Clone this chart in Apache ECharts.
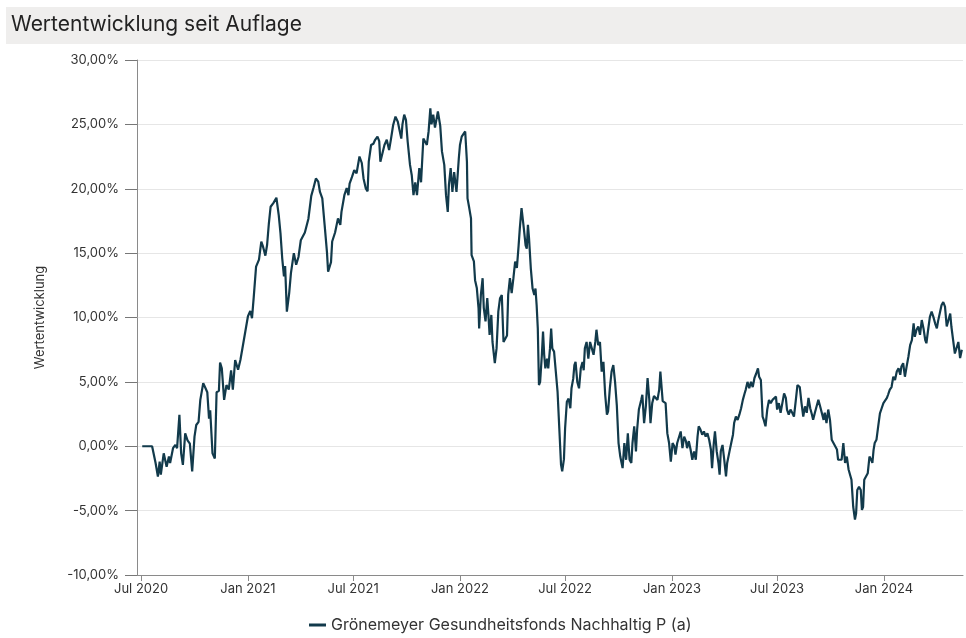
<!DOCTYPE html>
<html>
<head>
<meta charset="utf-8">
<script src="https://cdn.jsdelivr.net/npm/echarts@6/dist/echarts.min.js"></script>
<style>
html,body{margin:0;padding:0;background:#fff;}
#c{width:966px;height:638px;}
</style>
</head>
<body>
<div id="c"></div>
<script>
const titleText = 'Wertentwicklung seit Auflage';
const seriesName = 'Grönemeyer Gesundheitsfonds Nachhaltig P (a)';
const yAxisName = 'Wertentwicklung';
const monthNames = ['Jan','Feb','Mar','Apr','May','Jun','Jul','Aug','Sep','Oct','Nov','Dec'];
const axisMinDate = '2020-06-24';
const axisMaxDate = '2024-05-16';
const yMin = -10, yMax = 30, yStep = 5;

const dates = [
'2020-07-03','2020-07-06','2020-07-20','2020-07-26','2020-07-30','2020-08-02','2020-08-04','2020-08-09','2020-08-14','2020-08-18','2020-08-20','2020-08-25','2020-08-29',
'2020-09-01','2020-09-05','2020-09-08','2020-09-11','2020-09-15','2020-09-19','2020-09-23','2020-09-27',
'2020-10-01','2020-10-04','2020-10-08','2020-10-11','2020-10-16','2020-10-20','2020-10-23','2020-10-26','2020-10-28',
'2020-11-01','2020-11-05','2020-11-08','2020-11-12','2020-11-14','2020-11-17','2020-11-21','2020-11-25','2020-11-29',
'2020-12-03','2020-12-06','2020-12-10','2020-12-15','2020-12-19','2020-12-24','2020-12-28',
'2021-01-01','2021-01-05','2021-01-08','2021-01-11','2021-01-15','2021-01-20','2021-01-24','2021-01-27','2021-01-31',
'2021-02-03','2021-02-06','2021-02-09','2021-02-14','2021-02-19','2021-02-23','2021-02-26',
'2021-03-01','2021-03-04','2021-03-06','2021-03-09','2021-03-13','2021-03-16','2021-03-21','2021-03-25','2021-03-29',
'2021-04-02','2021-04-09','2021-04-15','2021-04-20','2021-04-24','2021-04-28',
'2021-05-02','2021-05-05','2021-05-09','2021-05-13','2021-05-17','2021-05-19','2021-05-24','2021-05-26','2021-05-31',
'2021-06-05','2021-06-09','2021-06-11','2021-06-16','2021-06-20','2021-06-23','2021-06-25','2021-06-29',
'2021-07-03','2021-07-07','2021-07-12','2021-07-16','2021-07-19','2021-07-23','2021-07-26','2021-07-28',
'2021-08-01','2021-08-05','2021-08-08','2021-08-12','2021-08-15','2021-08-17','2021-08-20','2021-08-24','2021-08-28',
'2021-09-01','2021-09-04','2021-09-08','2021-09-12','2021-09-16','2021-09-19','2021-09-22','2021-09-24','2021-09-27','2021-09-30',
'2021-10-03','2021-10-07','2021-10-10','2021-10-13','2021-10-16','2021-10-19','2021-10-23','2021-10-26','2021-10-30',
'2021-11-02','2021-11-05','2021-11-08','2021-11-11','2021-11-13','2021-11-16','2021-11-19','2021-11-24','2021-11-28',
'2021-12-01','2021-12-05','2021-12-08','2021-12-11','2021-12-13','2021-12-16','2021-12-19','2021-12-22','2021-12-26','2021-12-30',
'2022-01-01','2022-01-04','2022-01-07','2022-01-10','2022-01-13','2022-01-14','2022-01-17','2022-01-20','2022-01-21','2022-01-25','2022-01-27','2022-01-30',
'2022-02-02','2022-02-03','2022-02-06','2022-02-09','2022-02-11','2022-02-14','2022-02-17','2022-02-19','2022-02-21','2022-02-24','2022-02-26',
'2022-03-02','2022-03-05','2022-03-08','2022-03-11','2022-03-14','2022-03-17','2022-03-20','2022-03-23','2022-03-25','2022-03-28','2022-03-31',
'2022-04-03','2022-04-06','2022-04-09','2022-04-12','2022-04-14','2022-04-17','2022-04-19','2022-04-21','2022-04-24','2022-04-26','2022-04-28','2022-04-30',
'2022-05-03','2022-05-06','2022-05-09','2022-05-11','2022-05-13','2022-05-15','2022-05-17','2022-05-19','2022-05-22','2022-05-24','2022-05-26','2022-05-28','2022-05-31',
'2022-06-02','2022-06-05','2022-06-07','2022-06-09','2022-06-12','2022-06-15','2022-06-18','2022-06-21','2022-06-24','2022-06-26','2022-06-29',
'2022-07-01','2022-07-04','2022-07-07','2022-07-10','2022-07-12','2022-07-15','2022-07-17','2022-07-19','2022-07-22','2022-07-25','2022-07-28','2022-07-31',
'2022-08-02','2022-08-04','2022-08-07','2022-08-10','2022-08-13','2022-08-16','2022-08-19','2022-08-22','2022-08-24','2022-08-27','2022-08-30',
'2022-09-02','2022-09-05','2022-09-08','2022-09-11','2022-09-13','2022-09-16','2022-09-19','2022-09-22','2022-09-25','2022-09-28',
'2022-10-01','2022-10-04','2022-10-08','2022-10-11','2022-10-14','2022-10-17','2022-10-20','2022-10-23','2022-10-25','2022-10-28','2022-10-31',
'2022-11-02','2022-11-05','2022-11-09','2022-11-11','2022-11-14','2022-11-17','2022-11-20','2022-11-23','2022-11-25','2022-11-28',
'2022-12-01','2022-12-04','2022-12-07','2022-12-10','2022-12-12','2022-12-14','2022-12-16','2022-12-18','2022-12-21','2022-12-24','2022-12-27','2022-12-30',
'2023-01-02','2023-01-05','2023-01-07','2023-01-10','2023-01-13','2023-01-16','2023-01-19','2023-01-22','2023-01-25','2023-01-27','2023-01-30',
'2023-02-02','2023-02-05','2023-02-08','2023-02-11','2023-02-14','2023-02-16','2023-02-19','2023-02-22','2023-02-25','2023-02-28',
'2023-03-03','2023-03-06','2023-03-09','2023-03-11','2023-03-14','2023-03-16','2023-03-19','2023-03-22','2023-03-24','2023-03-26','2023-03-29',
'2023-04-01','2023-04-04','2023-04-06','2023-04-10','2023-04-13','2023-04-16','2023-04-18','2023-04-21','2023-04-24','2023-04-27','2023-04-30',
'2023-05-03','2023-05-06','2023-05-08','2023-05-11','2023-05-14','2023-05-17','2023-05-20','2023-05-23','2023-05-26','2023-05-29','2023-05-31',
'2023-06-03','2023-06-06','2023-06-08','2023-06-11','2023-06-14','2023-06-17','2023-06-20','2023-06-23','2023-06-26','2023-06-29',
'2023-07-01','2023-07-04','2023-07-07','2023-07-10','2023-07-13','2023-07-16','2023-07-18','2023-07-21','2023-07-24','2023-07-27','2023-07-30',
'2023-08-02','2023-08-05','2023-08-09','2023-08-12','2023-08-15','2023-08-18','2023-08-21','2023-08-24','2023-08-27','2023-08-30',
'2023-09-01','2023-09-04','2023-09-07','2023-09-10','2023-09-13','2023-09-16','2023-09-19','2023-09-21','2023-09-24','2023-09-27','2023-09-30',
'2023-10-03','2023-10-06','2023-10-09','2023-10-12','2023-10-14','2023-10-17','2023-10-20','2023-10-23','2023-10-26','2023-10-29',
'2023-11-01','2023-11-03','2023-11-06','2023-11-09','2023-11-12','2023-11-14','2023-11-16','2023-11-19','2023-11-22','2023-11-24','2023-11-26','2023-11-28',
'2023-12-01','2023-12-04','2023-12-07','2023-12-10','2023-12-12','2023-12-14','2023-12-16','2023-12-19','2023-12-22','2023-12-25','2023-12-28','2023-12-31',
'2024-01-03','2024-01-06','2024-01-08','2024-01-11','2024-01-14','2024-01-17','2024-01-20','2024-01-23','2024-01-26','2024-01-29','2024-01-31',
'2024-02-03','2024-02-06','2024-02-09','2024-02-12','2024-02-15','2024-02-18','2024-02-21','2024-02-23','2024-02-26','2024-02-29',
'2024-03-03','2024-03-06','2024-03-09','2024-03-12','2024-03-14','2024-03-17','2024-03-20','2024-03-23','2024-03-26','2024-03-29',
'2024-04-01','2024-04-03','2024-04-06','2024-04-09','2024-04-12','2024-04-15','2024-04-18','2024-04-21','2024-04-24','2024-04-26','2024-04-29',
'2024-05-02','2024-05-05','2024-05-08','2024-05-11','2024-05-14'
];

const values = [
0.0,0.1,0.0,-1.3,-2.35,-1.2,-2.2,-0.55,-1.6,-0.8,-1.3,-0.15,0.1,
-0.15,2.45,-0.55,-1.45,1.0,0.45,0.2,-1.95,
0.75,1.65,1.9,3.6,4.9,4.5,4.2,2.15,2.8,
-0.55,-0.95,4.2,4.3,6.5,6.05,3.6,4.75,4.4,
5.9,4.4,6.7,5.95,6.7,8.0,9.05,
10.1,10.5,9.95,11.6,13.95,14.5,15.9,15.5,14.8,
15.65,17.3,18.6,18.9,19.3,17.95,16.55,
14.6,13.2,14.0,10.45,11.9,13.45,15.0,14.1,14.7,
16.0,16.6,17.65,19.45,20.1,20.8,
20.55,19.75,19.25,17.2,15.1,13.55,14.3,15.9,16.6,
17.7,17.2,18.2,19.5,20.05,19.5,20.4,20.9,
21.45,21.2,22.5,22.0,20.8,20.0,19.8,22.1,
23.4,23.5,23.8,24.05,23.7,22.1,22.0,23.4,23.8,
23.0,23.8,24.95,25.6,25.2,24.55,23.9,25.0,25.75,25.35,
23.65,21.85,21.05,19.5,20.5,19.5,21.6,20.5,23.9,
24.0,23.4,24.45,26.25,25.0,25.75,24.75,26.0,24.9,
22.9,21.85,19.5,18.2,20.3,21.6,19.75,21.3,19.75,22.35,
23.4,24.05,24.05,24.45,22.1,19.25,18.5,17.7,14.85,14.35,12.9,12.3,
10.7,9.15,11.75,13.05,10.75,9.7,11.5,10.2,8.65,10.2,8.1,
6.45,7.6,10.45,11.5,11.75,8.1,7.95,8.6,11.75,13.05,11.9,
13.05,14.35,13.85,15.6,16.9,18.5,18.5,16.9,15.6,15.35,17.2,16.1,
13.8,12.25,11.75,12.25,10.95,9.15,4.75,5.0,7.1,8.9,7.1,6.05,6.8,
6.05,7.6,9.15,7.6,7.35,5.8,4.25,1.4,-1.45,-1.95,-1.0,
1.4,3.45,3.7,2.95,4.5,5.25,6.3,6.55,5.0,4.5,6.05,6.55,
5.9,7.6,8.1,6.8,8.1,7.6,7.1,8.1,9.05,7.85,8.1,
5.8,6.55,4.0,2.45,2.7,4.5,5.8,6.3,5.0,3.2,
0.25,-0.8,-1.7,0.25,-1.05,1.0,-1.05,-1.3,0.25,1.55,-0.4,
1.3,2.85,3.6,4.0,1.8,3.1,5.3,3.6,1.8,3.35,
3.9,4.0,3.6,4.4,5.8,5.9,3.5,3.6,3.35,1.0,0.25,-1.2,
0.25,0.0,-0.65,0.25,0.1,1.15,-0.15,0.75,0.4,-0.15,0.4,
-0.25,-1.05,-0.4,-1.05,0.75,1.55,1.3,0.9,1.15,0.75,
1.0,0.5,-0.25,-1.7,0.25,1.15,-0.4,-1.3,-2.2,-0.4,0.1,
-1.05,-2.35,-1.3,-0.4,0.25,0.9,1.8,2.3,2.05,2.45,2.95,
3.6,4.1,4.4,5.0,4.5,5.0,4.6,5.3,5.65,6.05,5.4,
5.15,2.3,2.05,1.55,2.85,3.6,3.35,3.6,3.75,3.85,
2.85,3.35,2.6,3.35,4.1,3.75,2.85,2.45,2.85,2.6,2.3,
3.5,4.75,4.6,3.35,2.3,3.1,2.6,3.75,2.95,2.45,
2.05,2.6,3.1,3.6,3.1,3.1,2.05,2.6,1.8,2.85,2.05,
0.5,0.25,0.0,-0.25,-1.05,-1.15,-1.05,0.25,-1.3,-0.8,
-1.8,-1.8,-2.6,-4.7,-5.7,-5.2,-3.4,-3.15,-3.4,-4.95,-4.7,-2.6,
-2.35,-2.1,-0.8,-1.05,-1.3,-0.3,0.25,0.5,1.55,2.55,2.95,3.35,
3.2,3.75,4.0,4.4,4.6,5.4,5.15,5.8,6.05,5.55,6.2,
6.45,5.4,6.2,6.95,7.85,8.25,9.55,8.5,9.05,9.3,
8.65,9.8,9.15,8.25,8.0,9.05,10.05,10.45,10.05,9.55,
9.15,9.7,9.8,10.95,11.2,10.85,9.3,9.8,10.3,9.3,8.25,
7.2,7.35,8.1,6.85,7.5
];

const lineColor = '#123a4b';
const chart = echarts.init(document.getElementById('c'), null, {renderer: 'canvas'});
const data = dates.map((d, i) => [d, values[i]]);
const DAY = 24 * 3600 * 1000;

const option = {
  animation: false,
  backgroundColor: '#ffffff',
  textStyle: {fontFamily: 'Inter, Roboto, sans-serif'},
  graphic: [
    {type: 'rect', left: 6, top: 7, shape: {width: 960, height: 37}, style: {fill: '#efeeed'}, z: 0},
    {type: 'text', left: 11, top: 14, style: {text: titleText, fill: '#222222', font: '21px Inter, Roboto, sans-serif'}, z: 1}
  ],
  grid: {left: 137, right: 3, top: 60, bottom: 63, containLabel: false},
  legend: {
    bottom: 0, left: 304,
    itemWidth: 17, itemHeight: 3, icon: 'rect', itemGap: 10,
    textStyle: {color: '#333', fontSize: 16, fontFamily: 'Inter, Roboto, sans-serif'},
    data: [seriesName]
  },
  xAxis: {
    type: 'time',
    min: axisMinDate, max: axisMaxDate,
    minInterval: 182 * DAY, maxInterval: 184 * DAY,
    axisLine: {onZero: false, lineStyle: {color: '#8a8a8a', width: 1}},
    axisTick: {show: true, length: 6, lineStyle: {color: '#8a8a8a'}},
    splitLine: {show: false},
    axisLabel: {
      color: '#333', fontSize: 13, margin: 8,
      showMinLabel: false, showMaxLabel: false,
      formatter: function (v) { const d = new Date(v); return monthNames[d.getMonth()] + ' ' + d.getFullYear(); }
    }
  },
  yAxis: {
    type: 'value', min: yMin, max: yMax, interval: yStep,
    name: yAxisName, nameLocation: 'middle', nameGap: 90, nameRotate: 90,
    nameTextStyle: {color: '#333', fontSize: 13},
    axisLine: {show: true, lineStyle: {color: '#8a8a8a', width: 1}},
    axisTick: {show: true, inside: false, length: 12, lineStyle: {color: '#777777', width: 1}},
    splitLine: {show: true, lineStyle: {color: '#e6e6e6', width: 1}},
    axisLabel: {
      color: '#333', fontSize: 13, margin: 18,
      formatter: function (v) { return v.toFixed(2).replace('.', ',') + '%'; }
    }
  },
  series: [{
    name: seriesName, type: 'line', data: data,
    showSymbol: false, symbol: 'none',
    lineStyle: {color: lineColor, width: 2.2},
    itemStyle: {color: lineColor}
  }]
};
chart.setOption(option);
</script>
</body>
</html>
